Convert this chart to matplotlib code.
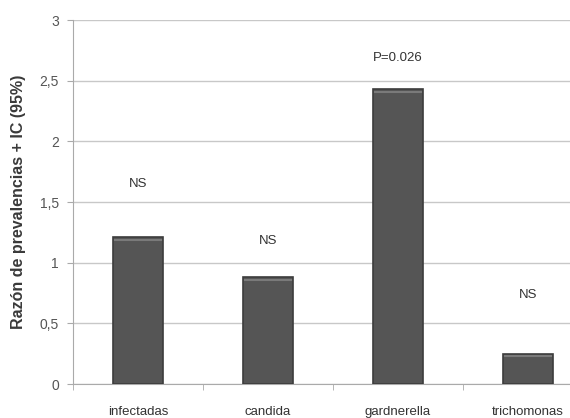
import matplotlib.pyplot as plt
import numpy as np

plt.rcParams['font.family'] = ['Liberation Sans', 'DejaVu Sans']

categories = ['infectadas', 'candida', 'gardnerella', 'trichomonas']
ratios = [1.21, 0.88, 2.43, 0.25]
notes = ['NS', 'NS', 'P=0.026', 'NS']
note_y = [1.65, 1.18, 2.69, 0.73]
yticks = [0, 0.5, 1, 1.5, 2, 2.5, 3]
ytick_labels = ['0', '0,5', '1', '1,5', '2', '2,5', '3']

fig = plt.figure(figsize=(5.7, 4.18), dpi=100)
ax = fig.add_axes([73 / 570, 34 / 418, 520 / 570, 364 / 418])

x = np.arange(len(categories))
bars = ax.bar(x, ratios, width=0.39, color='#555555', edgecolor='#3c3c3c',
              linewidth=1.2, zorder=3)

# light band along the top of each bar, like the original's bevel
for b in bars:
    ax.plot([b.get_x() + 0.02, b.get_x() + b.get_width() - 0.02],
            [b.get_height() - 0.02] * 2, color='#7a7a7a', linewidth=1.5, zorder=4)

for xi, txt, yy in zip(x, notes, note_y):
    ax.text(xi, yy, txt, ha='center', va='center', fontsize=9.5, color='#333333')

ax.set_xlim(-0.5, 3.5)
ax.set_ylim(0, 3)
ax.set_yticks(yticks)
ax.set_yticklabels(ytick_labels, fontsize=10, color='#555555')
ax.set_xticks(x)
ax.set_xticklabels(categories, fontsize=9.5, color='#333333')
ax.set_xticks(np.arange(-0.5, 3.0, 1), minor=True)
ax.tick_params(axis='x', which='major', length=0, pad=16)
ax.tick_params(axis='x', which='minor', length=4, color='#aaaaaa')
ax.tick_params(axis='y', length=4, color='#aaaaaa', pad=6)

ax.grid(axis='y', color='#c8c8c8', linewidth=1, zorder=0)
for side in ['top', 'right']:
    ax.spines[side].set_visible(False)
for side in ['left', 'bottom']:
    ax.spines[side].set_color('#aaaaaa')

ax.set_ylabel('Razón de prevalencias + IC (95%)', fontsize=11.5, fontweight='bold',
              color='#3a3a3a', labelpad=10)

plt.savefig('out.png', dpi=100)
